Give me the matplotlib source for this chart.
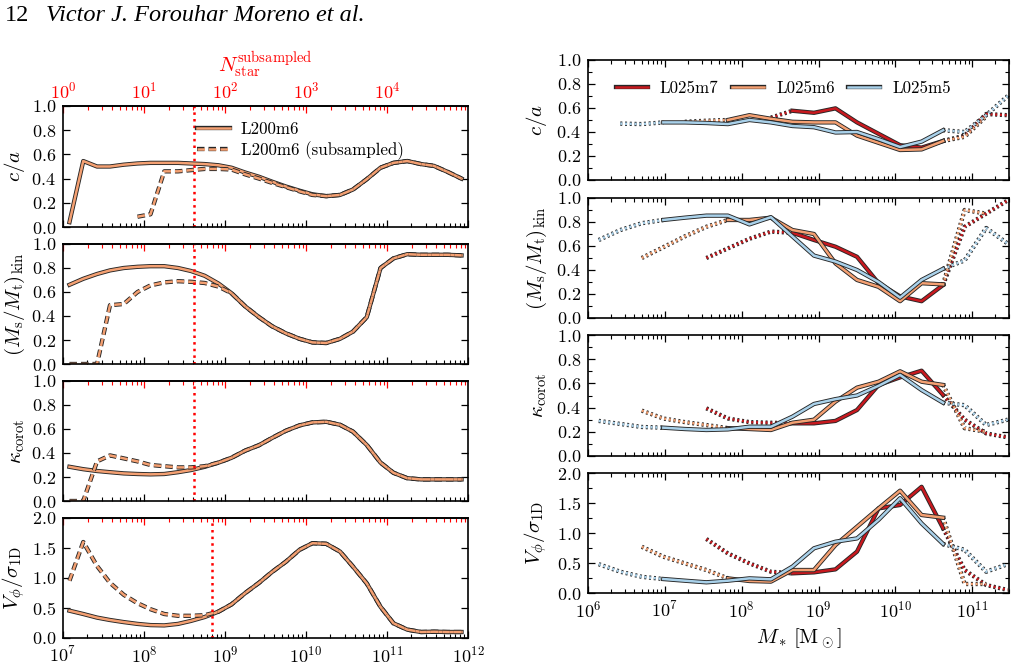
import numpy as np
import matplotlib
matplotlib.use("Agg")
import matplotlib.pyplot as plt
import matplotlib.patheffects as pe
from matplotlib.ticker import MultipleLocator

plt.rcParams["font.family"] = "cmr10"
plt.rcParams["mathtext.fontset"] = "cm"
plt.rcParams["axes.formatter.use_mathtext"] = True
plt.rcParams["axes.unicode_minus"] = False

# ---------------- left column: L200m6 vs subsampled ----------------
LEFT_LOGM = [7.08, 7.25, 7.42, 7.58, 7.75, 7.92, 8.08, 8.25, 8.42, 8.58,
             8.75, 8.92, 9.08, 9.25, 9.42, 9.58, 9.75, 9.92, 10.08, 10.25,
             10.42, 10.58, 10.75, 10.92, 11.08, 11.25, 11.42, 11.58, 11.75, 11.92]
nan = np.nan

CA_FULL = [0.04, 0.545, 0.50, 0.50, 0.515, 0.525, 0.53, 0.53, 0.53, 0.525,
           0.52, 0.51, 0.49, 0.45, 0.415, 0.375, 0.335, 0.30, 0.27, 0.255,
           0.265, 0.31, 0.395, 0.49, 0.53, 0.545, 0.52, 0.505, 0.455, 0.40]
CA_SUB = [nan, nan, nan, nan, nan, 0.085, 0.105, 0.46, 0.46, 0.47,
          0.48, 0.48, 0.475, 0.435, 0.40, 0.365, 0.33, 0.295, 0.265, 0.255,
          0.265, 0.31, 0.395, 0.49, 0.53, 0.545, 0.52, 0.505, 0.455, 0.40]

MS_FULL = [0.66, 0.71, 0.75, 0.78, 0.80, 0.81, 0.815, 0.815, 0.80, 0.775,
           0.735, 0.67, 0.59, 0.48, 0.39, 0.315, 0.256, 0.21, 0.18, 0.175,
           0.21, 0.27, 0.39, 0.80, 0.88, 0.915, 0.91, 0.91, 0.91, 0.905]
MS_SUB = [0.0, 0.0, 0.0, 0.49, 0.50, 0.60, 0.655, 0.68, 0.69, 0.685,
          0.675, 0.645, 0.59, 0.48, 0.39, 0.315, 0.256, 0.21, 0.18, 0.175,
          0.21, 0.27, 0.39, 0.80, 0.88, 0.915, 0.91, 0.91, 0.91, 0.905]

KAPPA_FULL = [0.285, 0.265, 0.25, 0.24, 0.23, 0.225, 0.222, 0.225, 0.24, 0.258,
              0.285, 0.32, 0.36, 0.42, 0.465, 0.525, 0.585, 0.63, 0.655, 0.66,
              0.635, 0.578, 0.467, 0.32, 0.235, 0.19, 0.18, 0.18, 0.18, 0.18]
KAPPA_SUB = [0.0, 0.0, 0.33, 0.38, 0.355, 0.33, 0.30, 0.29, 0.28, 0.28,
             0.29, 0.32, 0.36, 0.42, 0.465, 0.525, 0.585, 0.63, 0.655, 0.66,
             0.635, 0.578, 0.467, 0.32, 0.235, 0.19, 0.18, 0.18, 0.18, 0.18]

VS_FULL = [0.455, 0.40, 0.34, 0.30, 0.265, 0.235, 0.215, 0.21, 0.235, 0.285,
           0.35, 0.44, 0.56, 0.75, 0.92, 1.10, 1.27, 1.47, 1.58, 1.57,
           1.44, 1.19, 0.91, 0.52, 0.245, 0.14, 0.10, 0.105, 0.10, 0.10]
VS_SUB = [0.955, 1.60, 1.20, 0.92, 0.72, 0.58, 0.48, 0.40, 0.37, 0.37,
          0.38, 0.44, 0.56, 0.75, 0.92, 1.10, 1.27, 1.47, 1.58, 1.57,
          1.44, 1.19, 0.91, 0.52, 0.245, 0.14, 0.10, 0.105, 0.10, 0.10]

VLINE_M = [4.1e8, 4.1e8, 4.1e8, 7.0e8]
M_PART = 1.01e7  # stellar particle mass used for the top axis

# ---------------- right column: L025 resolution series ----------------
BIN_LOGM = [6.14, 6.42, 6.70, 6.98, 7.26, 7.54, 7.82, 8.10, 8.38, 8.66,
            8.94, 9.22, 9.50, 9.78, 10.06, 10.34, 10.62, 10.90, 11.18, 11.46]

CA_M7 = [nan] * 8 + [0.52, 0.577, 0.56, 0.597, 0.48, 0.385, 0.29, 0.27, 0.325, 0.37, 0.55, 0.54]
CA_M6 = [nan, nan, nan, nan, 0.485, 0.494, 0.50, 0.54, 0.51, 0.485,
         0.48, 0.48, 0.37, 0.31, 0.25, 0.255, 0.325, 0.36, 0.53, nan]
CA_M5 = [nan, 0.47, 0.466, 0.48, 0.48, 0.475, 0.466, 0.50, 0.48, 0.45,
         0.44, 0.396, 0.40, 0.34, 0.275, 0.32, 0.415, 0.40, 0.54, 0.70]

MS_M7 = [nan] * 5 + [0.50, 0.58, 0.66, 0.72, 0.71, 0.65, 0.594, 0.51, 0.29, 0.18,
                     0.14, 0.275, 0.76, 0.87, 0.98]
MS_M6 = [nan, nan, 0.50, 0.59, 0.68, 0.76, 0.817, 0.817, 0.836, 0.733,
         0.70, 0.455, 0.317, 0.26, 0.14, 0.29, 0.28, 0.90, 0.87, nan]
MS_M5 = [0.65, 0.733, 0.79, 0.817, 0.836, 0.853, 0.853, 0.78, 0.84, 0.68,
         0.52, 0.47, 0.40, 0.30, 0.17, 0.317, 0.41, 0.48, 0.75, 0.62]

KAPPA_M7 = [nan] * 5 + [0.394, 0.31, 0.28, 0.275, 0.27, 0.27, 0.29, 0.38, 0.587, 0.65,
                        0.705, 0.504, 0.30, 0.187, 0.154]
KAPPA_M6 = [nan, nan, 0.375, 0.31, 0.28, 0.256, 0.23, 0.223, 0.215, 0.275,
            0.30, 0.45, 0.565, 0.614, 0.70, 0.614, 0.587, 0.23, 0.20, nan]
KAPPA_M5 = [0.29, 0.265, 0.24, 0.234, 0.223, 0.215, 0.22, 0.242, 0.242, 0.325,
            0.43, 0.47, 0.50, 0.58, 0.67, 0.545, 0.44, 0.42, 0.256, 0.30]

VS_M7 = [nan] * 5 + [0.90, 0.66, 0.494, 0.355, 0.328, 0.344, 0.394, 0.69, 1.41, 1.467,
                     1.77, 1.078, 0.383, 0.133, 0.05]
VS_M6 = [nan, nan, 0.77, 0.605, 0.494, 0.383, 0.244, 0.20, 0.19, 0.383,
         0.383, 0.80, 1.105, 1.41, 1.705, 1.30, 1.255, 0.15, 0.15, nan]
VS_M5 = [0.48, 0.355, 0.27, 0.233, 0.205, 0.178, 0.205, 0.244, 0.228, 0.44,
         0.745, 0.855, 0.91, 1.22, 1.58, 1.16, 0.817, 0.72, 0.355, 0.48]

SIMS = ["L025m7", "L025m6", "L025m5"]
SOLID_FIRST = {"L025m7": 9, "L025m6": 6, "L025m5": 3}   # first resolved bin
SOLID_LAST = 16                                          # last bin with enough objects

RED = "#c8191f"
ORANGE = "#f4a072"
BLUE = "#a9d1ea"
EDGE = "#262626"
COLORS = {"L025m7": RED, "L025m6": ORANGE, "L025m5": BLUE}
LW = 1.8


def outline():
    return [pe.withStroke(linewidth=LW + 1.3, foreground=EDGE)]


def pix_axes(fig, x0, x1, top, bottom, W=1017, H=664):
    return fig.add_axes([x0 / W, 1 - bottom / H, (x1 - x0) / W, (bottom - top) / H])


def style(ax, xlim, ylim, ymajor, yminor=None):
    ax.set_xscale("log")
    ax.set_xlim(*xlim)
    ax.set_ylim(*ylim)
    ax.yaxis.set_major_locator(MultipleLocator(ymajor))
    if yminor:
        ax.yaxis.set_minor_locator(MultipleLocator(yminor))
    ax.tick_params(which="both", direction="in", top=True, right=True, labelsize=13)
    ax.tick_params(which="major", length=5, width=0.9, pad=5)
    ax.tick_params(which="minor", length=2.6, width=0.8)
    for s in ax.spines.values():
        s.set_linewidth(1.2)


fig = plt.figure(figsize=(10.17, 6.64), dpi=100)

fig.text(0.005, 0.977, "12", fontsize=17.5, family="Liberation Serif", va="center")
fig.text(0.045, 0.977, "Victor J. Forouhar Moreno et al.", fontsize=17.5,
         family="Liberation Serif", style="italic", va="center")

# left column
left_rows = [(106, 227), (244, 364), (381, 501), (518, 638)]
left_data = [(CA_FULL, CA_SUB, (0, 1), 0.2, r"$c/a$"),
             (MS_FULL, MS_SUB, (0, 1), 0.2, r"$(M_{\rm s}/M_{\rm t})_{\rm kin}$"),
             (KAPPA_FULL, KAPPA_SUB, (0, 1), 0.2, r"$\kappa_{\rm corot}$"),
             (VS_FULL, VS_SUB, (0, 2), 0.5, r"$V_\phi/\sigma_{\rm 1D}$")]
xl = 10 ** np.array(LEFT_LOGM)
for i, ((top, bot), (full, sub, ylim, ymaj, ylab)) in enumerate(zip(left_rows, left_data)):
    ax = pix_axes(fig, 63, 468, top, bot)
    style(ax, (1e7, 1e12), ylim, ymaj)
    ax.tick_params(which="both", top=False)
    ax.plot(xl, full, color=ORANGE, lw=LW, path_effects=outline(), label="L200m6")
    ax.plot(xl, sub, color=ORANGE, lw=LW, ls=(0, (3, 1.6)), path_effects=outline(),
            label="L200m6 (subsampled)")
    ax.axvline(VLINE_M[i], color="red", ls=":", lw=1.8)
    ax.set_ylabel(ylab, fontsize=15)
    ax.yaxis.set_label_coords(-0.089, 0.5)
    sec = ax.secondary_xaxis("top", functions=(lambda m: m / M_PART, lambda n: n * M_PART))
    sec.tick_params(which="both", direction="in", colors="red", labelsize=13)
    sec.tick_params(which="major", length=5, width=0.9)
    sec.tick_params(which="minor", length=2.6, width=0.8)
    sec.spines["top"].set_linewidth(1.2)
    if i == 0:
        sec.set_xlabel(r"$N_{\rm star}^{\rm subsampled}$", color="red", fontsize=15, labelpad=6)
        ax.legend(loc="upper left", bbox_to_anchor=(0.315, 0.93), frameon=False,
                  fontsize=12.2, handlelength=1.95, handletextpad=0.6,
                  labelspacing=0.25, borderaxespad=0)
    else:
        sec.tick_params(which="both", labeltop=False)
    if i < 3:
        ax.tick_params(which="both", labelbottom=False)

# right column
right_rows = [(60, 180), (198, 318), (335, 456), (473, 593)]
right_data = [({"L025m7": CA_M7, "L025m6": CA_M6, "L025m5": CA_M5}, (0, 1), 0.2, 0.1, r"$c/a$"),
              ({"L025m7": MS_M7, "L025m6": MS_M6, "L025m5": MS_M5}, (0, 1), 0.2, 0.1,
               r"$(M_{\rm s}/M_{\rm t})_{\rm kin}$"),
              ({"L025m7": KAPPA_M7, "L025m6": KAPPA_M6, "L025m5": KAPPA_M5}, (0, 1), 0.2, 0.1,
               r"$\kappa_{\rm corot}$"),
              ({"L025m7": VS_M7, "L025m6": VS_M6, "L025m5": VS_M5}, (0, 2), 0.5, 0.25,
               r"$V_\phi/\sigma_{\rm 1D}$")]
xb = 10 ** np.array(BIN_LOGM)
for i, ((top, bot), (series, ylim, ymaj, ymin, ylab)) in enumerate(zip(right_rows, right_data)):
    ax = pix_axes(fig, 588, 1009, top, bot)
    style(ax, (1e6, 3e11), ylim, ymaj, ymin)
    for sim in SIMS:
        y = np.array(series[sim], dtype=float)
        s0 = SOLID_FIRST[sim]
        c = COLORS[sim]
        ax.plot(xb[:s0 + 1], y[:s0 + 1], color=c, lw=LW, ls=(0, (0.8, 1.1)),
                path_effects=outline())
        ax.plot(xb[SOLID_LAST:], y[SOLID_LAST:], color=c, lw=LW, ls=(0, (0.8, 1.1)),
                path_effects=outline())
        ax.plot(xb[s0:SOLID_LAST + 1], y[s0:SOLID_LAST + 1], color=c, lw=LW,
                path_effects=outline(), label=sim)
    ax.set_ylabel(ylab, fontsize=15)
    ax.yaxis.set_label_coords(-0.092, 0.5)
    if i == 0:
        ax.legend(loc="upper left", bbox_to_anchor=(0.05, 0.885), ncol=3, frameon=False,
                  fontsize=12.2, handlelength=1.9, handletextpad=0.7, columnspacing=0.8,
                  borderaxespad=0)
    if i < 3:
        ax.tick_params(which="both", labelbottom=False)
    else:
        ax.set_xlabel(r"$M_*\,[\mathrm{M}_\odot]$", fontsize=15, labelpad=4)

fig.savefig("out.png", dpi=100)
